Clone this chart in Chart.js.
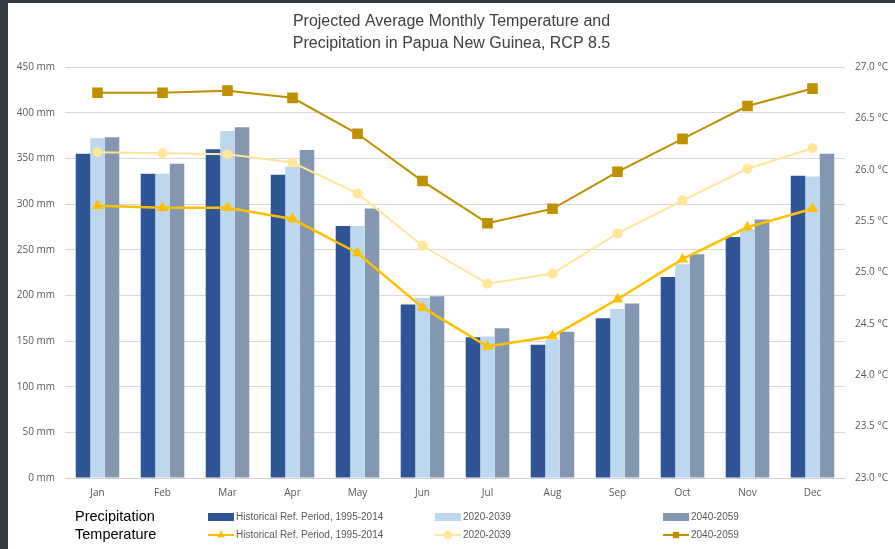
<!DOCTYPE html>
<html>
<head>
<meta charset="utf-8">
<title>Papua New Guinea RCP 8.5</title>
<script src="https://cdn.jsdelivr.net/npm/chart.js@4.4.0/dist/chart.umd.min.js"></script>
<style>
	html, body {
		margin: 0;
		padding: 0;
		background: #313a43;
		width: 895px;
		height: 549px;
		overflow: hidden;
	}
	#wrap {
		position: absolute;
		left: 8px;
		top: 3px;
		width: 887px;
		height: 546px;
		background: #ffffff;
	}
</style>
</head>
<body>
<div id="wrap"><canvas id="climateChart"></canvas></div>
<script>
// valores
const months = ["Jan", "Feb", "Mar", "Apr", "May", "Jun", "Jul", "Aug", "Sep", "Oct", "Nov", "Dec"];
const periodLabels = ["Historical Ref. Period, 1995-2014", "2020-2039", "2040-2059"];

const precipHist = [355, 333, 360, 332, 276, 190, 154, 146, 175, 220, 264, 331];
const precip2020 = [372, 333, 380, 341, 276, 197, 155, 151, 185, 234, 272, 330];
const precip2040 = [373, 344, 384, 359, 295, 199, 164, 160, 191, 245, 283, 355];

const tempHist = [25.65, 25.63, 25.63, 25.52, 25.19, 24.66, 24.28, 24.38, 24.74, 25.13, 25.44, 25.62];
const temp2020 = [26.17, 26.16, 26.15, 26.07, 25.77, 25.26, 24.89, 24.99, 25.38, 25.7, 26.01, 26.21];
const temp2040 = [26.75, 26.75, 26.77, 26.7, 26.35, 25.89, 25.48, 25.62, 25.98, 26.3, 26.62, 26.79];

const precipTicks = [0, 50, 100, 150, 200, 250, 300, 350, 400, 450];
const tempTicks = [23.0, 23.5, 24.0, 24.5, 25.0, 25.5, 26.0, 26.5, 27.0];

const titleLines = ["Projected Average Monthly Temperature and", "Precipitation in Papua New Guinea, RCP 8.5"];
const legendRows = ["Precipitation", "Temperature"];

document.addEventListener("DOMContentLoaded", () => {
	drawChart();
});

// leyenda de dos filas como en la imagen original
const twoRowLegend = {
	id: "twoRowLegend",
	afterDraw(chart) {
		const ctx = chart.ctx;
		const colX = [200, 427, 655];
		const rowY = [514, 532];
		ctx.save();
		ctx.textBaseline = "middle";
		ctx.textAlign = "left";
		ctx.fillStyle = "#000000";
		ctx.font = "14.5px 'Liberation Sans', Arial, sans-serif";
		legendRows.forEach((name, r) => ctx.fillText(name, 67, rowY[r]));

		ctx.font = "10px 'Liberation Sans', Arial, sans-serif";
		chart.data.datasets.forEach((ds) => {
			const row = ds.type === "bar" ? 0 : 1;
			const x = colX[ds.col];
			const y = rowY[row];
			if (row === 0) {
				ctx.fillStyle = ds.backgroundColor;
				ctx.fillRect(x, y - 4, 26, 8);
			} else {
				ctx.strokeStyle = ds.borderColor;
				ctx.lineWidth = 2;
				ctx.beginPath();
				ctx.moveTo(x, y);
				ctx.lineTo(x + 26, y);
				ctx.stroke();
				ctx.fillStyle = ds.pointBackgroundColor;
				ctx.strokeStyle = ds.pointBorderColor;
				Chart.helpers.drawPoint(ctx, { pointStyle: ds.pointStyle, radius: 4.5, rotation: 0, borderWidth: 0 }, x + 13, y);
			}
			ctx.fillStyle = "#595959";
			ctx.fillText(ds.label, x + 28, y);
		});
		ctx.restore();
	},
};

function drawChart() {
	const ctx = document.getElementById("climateChart").getContext("2d");

	const lineStyle = (label, data, color, style, radius, width, col) => ({
		type: "line",
		label: label,
		data: data,
		yAxisID: "yTemp",
		borderColor: color,
		backgroundColor: color,
		pointBackgroundColor: color,
		pointBorderColor: color,
		pointBorderWidth: 0,
		pointStyle: style,
		pointRadius: radius,
		borderWidth: width,
		tension: 0,
		order: 0,
		col: col,
	});

	const barStyle = (label, data, color, col) => ({
		type: "bar",
		label: label,
		data: data,
		yAxisID: "yPrecip",
		backgroundColor: color,
		borderWidth: 0,
		barPercentage: 1,
		categoryPercentage: 0.67,
		order: 1,
		col: col,
	});

	new Chart(ctx, {
		data: {
			labels: months,
			datasets: [
				lineStyle(periodLabels[0], tempHist, "#ffc000", "triangle", 6.5, 2.5, 0),
				lineStyle(periodLabels[1], temp2020, "#ffe699", "circle", 5, 2, 1),
				lineStyle(periodLabels[2], temp2040, "#bf9000", "rect", 7.5, 2, 2),
				barStyle(periodLabels[0], precipHist, "#2f5597", 0),
				barStyle(periodLabels[1], precip2020, "#bdd7ee", 1),
				barStyle(periodLabels[2], precip2040, "#8497b0", 2),
			],
		},
		options: {
			responsive: true,
			maintainAspectRatio: false,
			animation: false,
			layout: { padding: 0 },
			plugins: {
				legend: { display: false },
				tooltip: { enabled: false },
				title: {
					display: true,
					text: titleLines,
					color: "#404040",
					font: { family: "'Liberation Sans', Arial, sans-serif", size: 16, weight: "normal", lineHeight: 1.375 },
					padding: { top: 8, bottom: 12 },
				},
			},
			scales: {
				x: {
					grid: { display: false, drawTicks: false },
					border: { display: true, color: "#d0d0d0" },
					ticks: {
						color: "#595959",
						font: { family: "'Open Sans', sans-serif", size: 10 },
						padding: 9,
					},
					afterFit: (scale) => {
						scale.height = 71;
					},
				},
				yPrecip: {
					position: "left",
					min: precipTicks[0],
					max: precipTicks[precipTicks.length - 1],
					afterBuildTicks: (scale) => {
						scale.ticks = precipTicks.map((v) => ({ value: v }));
					},
					grid: { color: "#d9d9d9", drawTicks: false },
					border: { display: false },
					ticks: {
						color: "#595959",
						font: { family: "'Open Sans', sans-serif", size: 10 },
						padding: 10,
						callback: (v) => v + " mm",
					},
					afterFit: (scale) => {
						scale.width = 57;
					},
				},
				yTemp: {
					position: "right",
					min: tempTicks[0],
					max: tempTicks[tempTicks.length - 1],
					afterBuildTicks: (scale) => {
						scale.ticks = tempTicks.map((v) => ({ value: v }));
					},
					grid: { display: false, drawTicks: false },
					border: { display: false },
					ticks: {
						color: "#595959",
						font: { family: "'Open Sans', sans-serif", size: 10 },
						padding: 10,
						callback: (v) => v.toFixed(1) + " °C",
					},
					afterFit: (scale) => {
						scale.width = 50;
					},
				},
			},
		},
		plugins: [twoRowLegend],
	});
}
</script>
</body>
</html>
